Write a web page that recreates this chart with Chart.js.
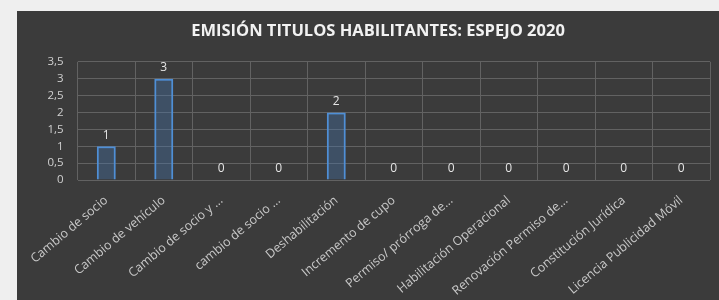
<!DOCTYPE html>
<html>
<head>
<meta charset="utf-8">
<script src="https://cdn.jsdelivr.net/npm/chart.js@4/dist/chart.umd.min.js"></script>
<style>
  html, body { margin: 0; padding: 0; background: #efefef; width: 719px; height: 300px; overflow: hidden; }
  #panel { position: absolute; left: 17px; top: 11px; width: 702px; height: 289px; background: #3b3b3b; }
  canvas { display: block; }
</style>
</head>
<body>
<div id="panel"><canvas id="c" width="702" height="289"></canvas></div>
<script>
const categories = [
  "Cambio de socio",
  "Cambio de vehículo",
  "Cambio de socio y ...",
  "cambio de socio ...",
  "Deshabilitación",
  "Incremento de cupo",
  "Permiso/ prórroga de...",
  "Habilitación Operacional",
  "Renovación Permiso de...",
  "Constitución Jurídica",
  "Licencia Publicidad Móvil"
];
const values = [1, 3, 0, 0, 2, 0, 0, 0, 0, 0, 0];
const yTicks = [0, 0.5, 1, 1.5, 2, 2.5, 3, 3.5];
const titleText = "EMISIÓN TITULOS HABILITANTES: ESPEJO 2020";

const valueLabels = {
  id: 'valueLabels',
  afterDatasetsDraw(chart) {
    const ctx = chart.ctx;
    const meta = chart.getDatasetMeta(0);
    ctx.save();
    ctx.font = '12px "Open Sans", "DejaVu Sans", sans-serif';
    ctx.fillStyle = '#e6e6e6';
    ctx.textAlign = 'center';
    ctx.textBaseline = 'bottom';
    meta.data.forEach((bar, i) => {
      ctx.fillText(String(values[i]), bar.x, bar.y - 5);
    });
    ctx.restore();
  }
};

new Chart(document.getElementById('c'), {
  type: 'bar',
  data: {
    labels: categories,
    datasets: [{
      data: values,
      backgroundColor: 'rgba(70,120,180,0.35)',
      borderColor: '#4f8fd6',
      borderWidth: 2,
      categoryPercentage: 1,
      barPercentage: 0.33
    }]
  },
  options: {
    responsive: false,
    animation: false,
    layout: { padding: { left: 29, right: 9, top: 0, bottom: 0 } },
    plugins: {
      legend: { display: false },
      tooltip: { enabled: false },
      title: {
        display: true,
        text: titleText,
        color: '#f2f2f2',
        font: { family: '"Open Sans", "DejaVu Sans", sans-serif', size: 16.5, weight: 'bold' },
        padding: { top: 10, bottom: 21 }
      }
    },
    scales: {
      x: {
        grid: { color: '#626262', lineWidth: 1, drawTicks: false, offset: true },
        border: { display: false },
        ticks: {
          color: '#c8c8c8',
          font: { family: '"Open Sans", "DejaVu Sans", sans-serif', size: 12.5 },
          maxRotation: 40,
          minRotation: 40,
          padding: 13,
          autoSkip: false
        },
        afterFit(scale) { scale.height = 120; }
      },
      y: {
        min: 0,
        max: 3.5,
        afterBuildTicks(scale) { scale.ticks = yTicks.map(v => ({ value: v })); },
        grid: { color: '#626262', lineWidth: 1, drawTicks: false },
        border: { display: false },
        ticks: {
          color: '#d0d0d0',
          font: { family: '"Open Sans", "DejaVu Sans", sans-serif', size: 11.5 },
          padding: 14,
          autoSkip: false,
          callback: v => String(v).replace('.', ',')
        },
        afterFit(scale) { scale.width = 31; }
      }
    }
  },
  plugins: [valueLabels]
});
</script>
</body>
</html>
